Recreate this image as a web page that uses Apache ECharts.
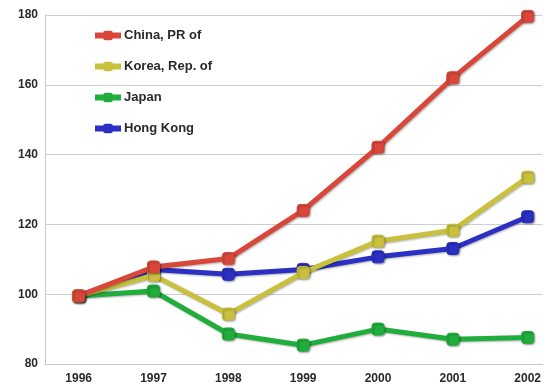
<!DOCTYPE html>
<html>
<head>
<meta charset="utf-8">
<script src="https://cdn.jsdelivr.net/npm/echarts@6/dist/echarts.min.js"></script>
<style>
  html, body { margin: 0; padding: 0; background: #fff; }
  #chart { width: 544px; height: 388px; }
</style>
</head>
<body>
<div id="chart"></div>
<script>
// Index values, 1996 = ~100
const years = [1996, 1997, 1998, 1999, 2000, 2001, 2002];
const china = [99.5, 107.8, 110.2, 124.0, 142.1, 162.0, 179.6];
const korea = [99.5, 105.4, 94.3, 106.2, 115.2, 118.3, 133.5];
const japan = [99.5, 100.9, 88.6, 85.4, 90.0, 87.1, 87.6];
const hongKong = [99.5, 107.1, 105.7, 107.1, 110.7, 113.1, 122.2];
const yTicks = [80, 100, 120, 140, 160, 180];

const pairs = vals => years.map((y, i) => [y, vals[i]]);

const font = { fontFamily: 'Liberation Sans', fontWeight: 'bold', fontSize: 12, color: '#2a2a2a' };

function lineSeries(name, vals, color, z) {
  return {
    name: name,
    type: 'line',
    data: pairs(vals),
    z: z,
    symbol: 'roundRect',
    symbolSize: 12,
    showSymbol: true,
    itemStyle: { color: color, borderColor: color, shadowColor: 'rgba(0,0,0,0.35)', shadowBlur: 2, shadowOffsetX: 1, shadowOffsetY: 1 },
    lineStyle: { width: 5, color: color, shadowColor: 'rgba(0,0,0,0.3)', shadowBlur: 2, shadowOffsetX: 1, shadowOffsetY: 1 },
    emphasis: { disabled: true },
    animation: false
  };
}

const chart = echarts.init(document.getElementById('chart'), null, { renderer: 'canvas' });
chart.setOption({
  animation: false,
  backgroundColor: '#ffffff',
  grid: { left: 45, right: 0, top: 15, bottom: 24, containLabel: false },
  legend: {
    orient: 'vertical',
    left: 87,
    top: 24,
    itemWidth: 26,
    itemHeight: 12,
    itemGap: 18,
    lineStyle: { width: 6 },
    data: ['China, PR of', 'Korea, Rep. of', 'Japan', 'Hong Kong'],
    textStyle: { fontFamily: 'Liberation Sans', fontWeight: 'bold', fontSize: 13, color: '#2a2a2a', padding: [0, 0, 0, -2] }
  },
  xAxis: {
    type: 'value',
    min: 1995.55,
    max: 2002.2,
    axisLine: { show: true, lineStyle: { color: '#c8c8c8', width: 1 } },
    axisTick: { show: false },
    splitLine: { show: false },
    axisLabel: Object.assign({ customValues: years, margin: 9, formatter: v => String(v) }, font)
  },
  yAxis: {
    type: 'value',
    min: 80,
    max: 180,
    interval: 20,
    axisLine: { show: true, lineStyle: { color: '#c8c8c8', width: 1 } },
    axisTick: { show: false },
    splitLine: { show: true, lineStyle: { color: '#cfcfcf', width: 1 } },
    axisLabel: Object.assign({ customValues: yTicks, margin: 7, formatter: v => String(v) }, font)
  },
  series: [
    lineSeries('Hong Kong', hongKong, '#2b2fc2', 2),
    lineSeries('Japan', japan, '#1fae3c', 3),
    lineSeries('Korea, Rep. of', korea, '#c9c03e', 4),
    lineSeries('China, PR of', china, '#d9473a', 5)
  ]
});
</script>
</body>
</html>
